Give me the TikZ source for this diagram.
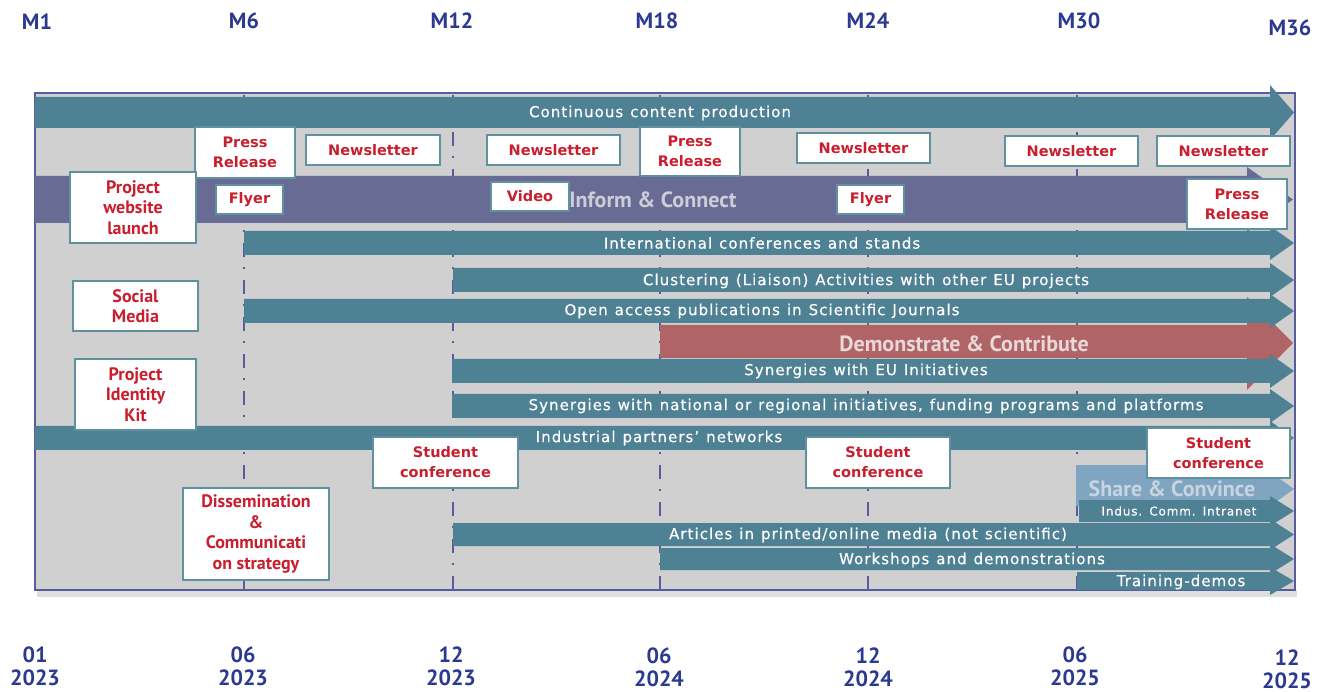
\documentclass[tikz,border=0pt]{standalone}
\usepackage{fontspec}
\setmainfont{DejaVu Sans}
\newfontfamily\barfont[LetterSpace=7,WordSpace=1.2,FakeBold=0.5]{DejaVu Sans}
\newfontfamily\boxfont{DejaVu Sans}
\newfontfamily\myr{PT Sans}
\definecolor{teal}{RGB}{79,129,148}
\definecolor{purp}{RGB}{104,108,148}
\definecolor{redbar}{RGB}{176,100,102}
\definecolor{sharebar}{RGB}{128,165,192}
\definecolor{bggrey}{RGB}{208,208,208}
\definecolor{shadowgrey}{RGB}{222,222,222}
\definecolor{frameblue}{RGB}{88,92,158}
\definecolor{labblue}{RGB}{43,57,144}
\definecolor{redtext}{RGB}{200,30,45}
\definecolor{boxline}{RGB}{95,145,160}
\definecolor{purptext}{RGB}{205,205,215}
\definecolor{redlight}{RGB}{232,216,216}
\definecolor{sharetext}{RGB}{200,212,224}
\newcommand\arrowbar[5]{%
  \fill[#1] (#2,#3) -- (1270,#3) -- (1270,{#3-#5}) -- (1294,{(#3+#4)/2}) -- (1270,{#4+#5}) -- (1270,#4) -- (#2,#4) -- cycle;}
\begin{document}
\begin{tikzpicture}[x=1pt,y=-1pt,
  bartext/.style={text=white, font=\barfont\fontsize{15}{18}\selectfont, inner sep=0},
  smallbartext/.style={bartext, font=\barfont\fontsize{12}{14}\selectfont},
  redbox/.style={draw=boxline, line width=1.2pt, fill=white, text=redtext, align=center, inner sep=0, font=\boxfont\bfseries\fontsize{14.5}{20}\selectfont},
  redboxm/.style={redbox, font=\myr\bfseries\fontsize{18}{20.5}\selectfont},
  biglab/.style={font=\myr\bfseries\fontsize{22}{26}\selectfont, inner sep=0},
  mlab/.style={text=labblue, font=\myr\bfseries\fontsize{22}{23}\selectfont, inner sep=0, align=center},
  milestone/.style={draw=frameblue, line width=2.5pt, dash pattern=on 14pt off 10pt on 2pt off 11pt}]
\useasboundingbox (0,0) rectangle (1331,692);

% top milestone labels
\node[mlab] (m1) at (37,22) {M1};
\node[mlab] (m6) at (244,21) {M6};
\node[mlab] (m12) at (452,21) {M12};
\node[mlab] (m18) at (657,21) {M18};
\node[mlab] (m24) at (868,21) {M24};
\node[mlab] (m30) at (1079,21) {M30};
\node[mlab] (m36) at (1290,28) {M36};

% bottom date labels
\node[mlab] (d1) at (35,666) {01\\2023};
\node[mlab] (d2) at (243,666) {06\\2023};
\node[mlab] (d3) at (451,666) {12\\2023};
\node[mlab] (d4) at (659,667) {06\\2024};
\node[mlab] (d5) at (868,667) {12\\2024};
\node[mlab] (d6) at (1075,666) {06\\2025};
\node[mlab] (d7) at (1287,669) {12\\2025};

% frame
\fill[shadowgrey] (37,590) rectangle (1297,597);
\fill[bggrey] (35,93) rectangle (1295,590);
\draw[frameblue, line width=2.5pt] (35,93) rectangle (1295,590);
\foreach \xx in {244,453,660,868,1077}
  \draw[milestone] (\xx,95) -- (\xx,589);

% bars
\arrowbar{teal}{35}{97}{128}{12}
\node[bartext] (cont) at (660,113) {Continuous content production};

\fill[purp] (35,176) -- (1247,176) -- (1247,167) -- (1293,199.5) -- (1247,232) -- (1247,223) -- (35,223) -- cycle;
\node[biglab, text=purptext] (inform) at (653,200) {Inform \& Connect};

\arrowbar{teal}{244}{231}{255}{5}
\node[bartext] (intl) at (762,243) {International conferences and stands};

\arrowbar{teal}{453}{268}{292}{5}
\node[bartext] (clus) at (866,281) {Clustering (Liaison) Activities with other EU projects};

\fill[redbar] (660,325) -- (1247,325) -- (1247,297) -- (1293,343) -- (1247,390) -- (1247,358) -- (660,358) -- cycle;
\node[biglab, text=redlight] (demo) at (964,344) {Demonstrate \& Contribute};

\arrowbar{teal}{244}{299}{323}{5}
\node[bartext] (open) at (762,311) {Open access publications in Scientific Journals};

\arrowbar{teal}{452}{359}{383}{5}
\node[bartext] (syneu) at (866,371) {Synergies with EU Initiatives};

\arrowbar{teal}{452}{394}{418}{5}
\node[bartext] (synnat) at (866,406) {Synergies with national or regional initiatives, funding programs and platforms};

\arrowbar{teal}{35}{426}{450}{5}
\node[bartext] (ind) at (659,438) {Industrial partners’ networks};

\fill[sharebar] (1076,465) -- (1270,465) -- (1270,472) -- (1294,489) -- (1270,506) -- (1076,506) -- cycle;
\node[biglab, text=sharetext] (share) at (1172,489) {Share \& Convince};

\arrowbar{teal}{1079}{500}{522}{4}
\node[smallbartext] (indus) at (1179,511) {Indus. Comm. Intranet};

\arrowbar{teal}{453}{523}{546}{4}
\node[bartext] (art) at (868,535) {Articles in printed/online media (not scientific)};

\arrowbar{teal}{660}{548}{570}{4}
\node[bartext] (work) at (972,560) {Workshops and demonstrations};

\arrowbar{teal}{1077}{572}{590}{5}
\node[bartext] (train) at (1181,582) {Training-demos};

% white boxes
\node[redbox, minimum width=100pt, minimum height=51pt] (pr1) at (245,152.5) {Press\\Release};
\node[redbox, minimum width=134pt, minimum height=30pt] (nl1) at (373,150) {Newsletter};
\node[redbox, minimum width=133pt, minimum height=30pt] (nl2) at (553.5,150) {Newsletter};
\node[redbox, minimum width=100pt, minimum height=49pt] (pr2) at (690,151.5) {Press\\Release};
\node[redbox, minimum width=133pt, minimum height=30pt] (nl3) at (863.5,148) {Newsletter};
\node[redbox, minimum width=133pt, minimum height=30pt] (nl4) at (1071.5,151) {Newsletter};
\node[redbox, minimum width=133pt, minimum height=30pt] (nl5) at (1223.5,151) {Newsletter};
\node[redboxm, minimum width=126pt, minimum height=71pt] (web) at (133,207.5) {Project\\website\\launch};
\node[redbox, minimum width=67pt, minimum height=29pt] (fly1) at (249.5,199.5) {Flyer};
\node[redbox, minimum width=78pt, minimum height=29pt] (vid) at (530,196.5) {Video};
\node[redbox, minimum width=67pt, minimum height=29pt] (fly2) at (870.5,199.5) {Flyer};
\node[redbox, minimum width=100pt, minimum height=50pt] (pr3) at (1237,204) {Press\\Release};
\node[redboxm, minimum width=125pt, minimum height=50pt] (soc) at (135.5,306) {Social\\Media};
\node[redboxm, minimum width=121pt, minimum height=71pt] (kit) at (135.5,394.5) {Project\\Identity\\Kit};
\node[redbox, minimum width=145pt, minimum height=51pt] (sc1) at (445.5,462.5) {Student\\conference};
\node[redbox, minimum width=144pt, minimum height=51pt] (sc2) at (878,462.5) {Student\\conference};
\node[redbox, minimum width=143pt, minimum height=50pt] (sc3) at (1218.5,453) {Student\\conference};
\node[redboxm, minimum width=146pt, minimum height=92pt] (dis) at (256,534) {Dissemination\\\&\\Communicati\\on strategy};
\end{tikzpicture}
\end{document}
